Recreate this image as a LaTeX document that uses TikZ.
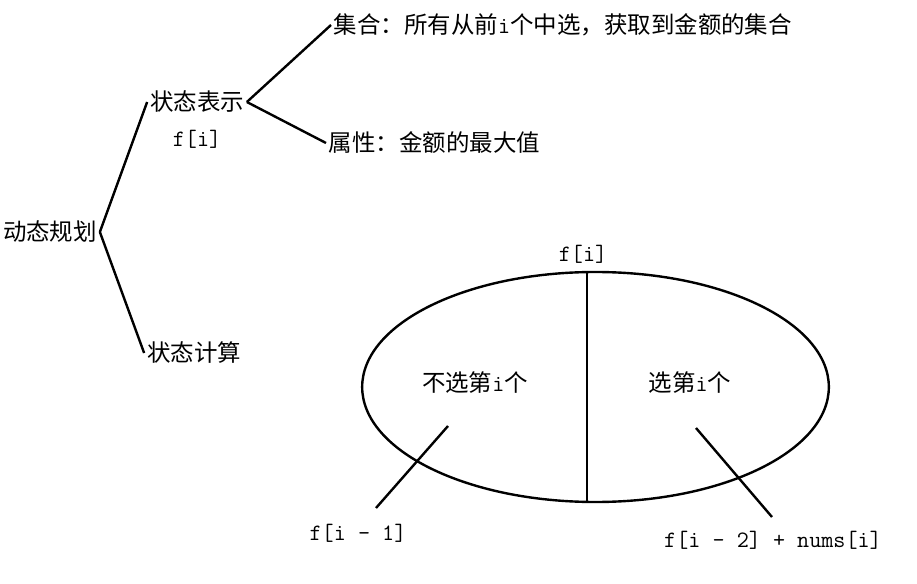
\documentclass[tikz,border=0pt]{standalone}
\usepackage{fontspec}
\setmainfont{Noto Sans CJK SC}
\usetikzlibrary{positioning, shapes.geometric}
\newcommand{\mono}[1]{{\ttfamily #1}}

\begin{document}
\begin{tikzpicture}[x=0.75pt, y=-0.75pt,
			every node/.style={font=\fontsize{17.6}{20}\selectfont, inner sep=2pt},
			ramo/.style={line width=1.8pt}]
			\useasboundingbox (0,0) rectangle (917,584);
			
			% Albero a sinistra
			\node (dp) at (50,232) {动态规划};
			\node (repr) at (197,102) {状态表示};
			\node[below=9pt of repr] (fi) {\mono{f[i]}};
			\node (calc) at (194,353) {状态计算};
			\node[anchor=west] (set) at (331,25) {集合：所有从前\mono{i}个中选，获取到金额的集合};
			\node[anchor=west] (attr) at (326,143) {属性：金额的最大值};
			
			\draw[ramo] (dp.east) -- (repr.west);
			\draw[ramo] (dp.east) -- (calc.west);
			\draw[ramo] (repr.east) -- (set.west);
			\draw[ramo] (repr.east) -- (attr.west);
			
			% --- Ellisse divisa in due ---
			\node[draw, ellipse, line width=1.8pt, inner sep=0pt,
				minimum width=350pt, minimum height=172.5pt] (ell) at (595.5,387) {};
			\coordinate (div) at (587,387);
			\draw[ramo] (div |- ell.north) -- (div |- ell.south);
			\node (ftop) at (583,254) {\mono{f[i]}};
			\node (no) at (475,383) {不选第\mono{i}个};
			\node (yes) at (690,383) {选第\mono{i}个};
			
			% Da ciascuna meta
			\node (fm1) at (358,533) {\mono{f[i - 1]}};
			\node (fm2) at (773,540) {\mono{f[i - 2] + nums[i]}};
			\coordinate (a1) at (448,426);
			\coordinate (a2) at (376,508);
			\coordinate (b1) at (696,428);
			\coordinate (b2) at (772,517);
			\draw[ramo] (a1) -- (a2);
			\draw[ramo] (b1) -- (b2);
			
		\end{tikzpicture}
\end{document}
